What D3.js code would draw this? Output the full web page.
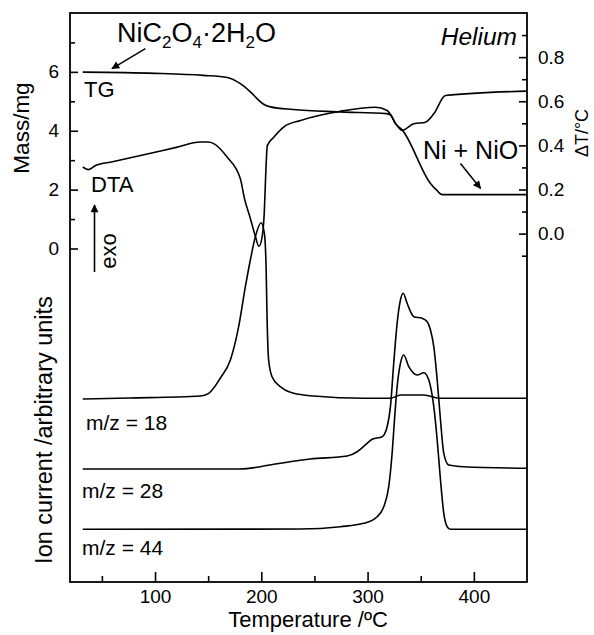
<!DOCTYPE html>
<html>
<head>
<meta charset="utf-8">
<script src="https://cdn.jsdelivr.net/npm/d3@7"></script>
<style>
  body { margin: 0; background: #fff; }
  svg { display: block; }
  text { font-family: "Liberation Sans", Arial, sans-serif; fill: #000; }
</style>
</head>
<body>
<svg id="chart" width="594" height="635"></svg>
<script>
// ---- TG: sample mass (mg) vs temperature (°C) ----
const tgTemp = [32, 100, 145.5, 168, 180.3, 189.7, 197.5, 202.2, 208.6, 230, 274.5, 318, 322, 326, 332.5, 359.2, 365, 370.2, 450];
const tgMass = [5.99, 5.95, 5.88, 5.81, 5.60, 5.32, 5.04, 4.90, 4.81, 4.72, 4.64, 4.58, 4.52, 4.25, 4.03, 2.21, 1.98, 1.83, 1.83];

// ---- DTA: temperature difference (°C) vs temperature (°C) ----
const dtaTemp = [32, 37.5, 44, 60, 100, 120, 142.6, 150, 155.2, 167.8, 180.3, 184.1, 189.7, 194.4, 197.7, 201, 202.9, 204.3, 205.7, 211.7, 221, 237, 274.5, 307.4, 318.4, 327.8, 332.5, 343.5, 354.5, 362.3, 373.3, 450];
const dtaDelta = [0.302, 0.290, 0.309, 0.326, 0.369, 0.391, 0.415, 0.415, 0.408, 0.347, 0.249, 0.160, 0.069, -0.012, -0.058, -0.008, 0.106, 0.287, 0.400, 0.437, 0.483, 0.513, 0.555, 0.573, 0.558, 0.490, 0.468, 0.498, 0.505, 0.543, 0.626, 0.646];

// ---- MS ion currents (arbitrary units, traces stacked) ----
const ms18Temp = [32, 76, 142.6, 150.5, 161.5, 170.9, 178.7, 185, 189.7, 194.4, 199.8, 202.9, 204.5, 205.4, 206.9, 210.1, 218, 230.5, 249.3, 296.4, 321.5, 330.9, 352.9, 368.6, 450];
const ms18Ion  = [18.3, 18.4, 18.6, 18.87, 20.4, 22.2, 25.53, 29.53, 32.2, 34.53, 35.93, 34.87, 31.53, 26.53, 22.2, 20.53, 19.53, 18.87, 18.6, 18.37, 18.37, 18.7, 18.7, 18.37, 18.37];

const ms28Temp = [32, 180, 199, 211.7, 246.2, 280.8, 290.2, 299.6, 304.3, 313.7, 318.4, 321.5, 324.6, 327.8, 330.9, 333.5, 337.2, 343.5, 351.4, 356.1, 359.2, 362.3, 365.5, 368.6, 371.7, 376.4, 390.5, 450];
const ms28Ion  = [11.3, 11.3, 11.53, 11.77, 12.3, 12.6, 13.03, 13.87, 14.27, 14.53, 15.53, 17.53, 21.87, 25.87, 28.2, 28.87, 27.87, 26.53, 26.37, 26.03, 25.2, 23.53, 20.2, 16.2, 12.87, 11.7, 11.53, 11.37];

const ms44Temp = [32, 236.8, 274.5, 296.4, 309, 315.2, 319.9, 323.1, 325.3, 327.8, 330.9, 334, 338.8, 346.7, 352.9, 357.6, 362.3, 365.5, 368.6, 371.7, 374.9, 378, 450];
const ms44Ion  = [5.27, 5.3, 5.53, 5.87, 6.53, 7.53, 9.53, 12.87, 16.2, 19.53, 21.87, 22.7, 21.53, 20.7, 20.93, 20.2, 17.53, 14.2, 10.2, 6.87, 5.53, 5.27, 5.27];

// ---- Axis ticks ----
const tempTicks  = [100, 200, 300, 400];
const tempMinor  = [50, 150, 250, 350];
const massTicks  = [0, 2, 4, 6];
const massMinor  = [1, 3, 5, 7];
const dtaTicks   = [0.0, 0.2, 0.4, 0.6, 0.8];
const dtaMinor   = [-0.1, 0.1, 0.3, 0.5, 0.7, 0.9];

const svg = d3.select("#chart");
const plotL = 70, plotR = 527, plotT = 13, plotB = 582;

const x     = d3.scaleLinear().domain([20, 450]).range([plotL, plotR]);
const yMass = d3.scaleLinear().domain([-11.33, 8]).range([plotB, plotT]);
const yDta  = d3.scaleLinear().domain([-1.579, 1.0]).range([plotB, plotT]);
const yIon  = d3.scaleLinear().domain([0, 56.9]).range([plotB, plotT]);

const zip = (a, b) => a.map((v, i) => [v, b[i]]);
const line = ys => d3.line().x(d => x(d[0])).y(d => ys(d[1])).curve(d3.curveMonotoneX);

const curves = svg.append("g").attr("fill", "none").attr("stroke", "#000")
  .attr("stroke-width", 1.6).attr("stroke-linejoin", "round");
curves.append("path").attr("d", line(yMass)(zip(tgTemp, tgMass)));
curves.append("path").attr("d", line(yDta)(zip(dtaTemp, dtaDelta)));
curves.append("path").attr("d", line(yIon)(zip(ms18Temp, ms18Ion)));
curves.append("path").attr("d", line(yIon)(zip(ms28Temp, ms28Ion)));
curves.append("path").attr("d", line(yIon)(zip(ms44Temp, ms44Ion)));

// ---- Frame ----
svg.append("rect").attr("x", plotL).attr("y", plotT)
  .attr("width", plotR - plotL).attr("height", plotB - plotT)
  .attr("fill", "none").attr("stroke", "#000").attr("stroke-width", 1.8);

function styleAxis(g) {
  g.select(".domain").remove();
  g.selectAll("line").attr("stroke", "#000").attr("stroke-width", 1.6);
  g.selectAll("text").attr("font-size", 19).attr("font-family", '"Liberation Sans", Arial, sans-serif');
}

// bottom axis (ticks point inward)
svg.append("g").attr("transform", `translate(0,${plotB})`)
  .call(d3.axisBottom(x).tickValues(tempTicks).tickSize(-10).tickPadding(8))
  .call(styleAxis);
svg.append("g").attr("transform", `translate(0,${plotB})`)
  .call(d3.axisBottom(x).tickValues(tempMinor).tickSize(-6).tickFormat(""))
  .call(styleAxis);

// left mass axis
svg.append("g").attr("transform", `translate(${plotL},0)`)
  .call(d3.axisLeft(yMass).tickValues(massTicks).tickSize(-8).tickPadding(11).tickFormat(d3.format("d")))
  .call(styleAxis);
svg.append("g").attr("transform", `translate(${plotL},0)`)
  .call(d3.axisLeft(yMass).tickValues(massMinor).tickSize(-5).tickFormat(""))
  .call(styleAxis);

// right DTA axis
svg.append("g").attr("transform", `translate(${plotR},0)`)
  .call(d3.axisRight(yDta).tickValues(dtaTicks).tickSize(-8).tickPadding(11).tickFormat(d3.format(".1f")))
  .call(styleAxis);
svg.append("g").attr("transform", `translate(${plotR},0)`)
  .call(d3.axisRight(yDta).tickValues(dtaMinor).tickSize(-5).tickFormat(""))
  .call(styleAxis);

// ---- Axis titles ----
svg.append("text").attr("transform", "translate(29,128) rotate(-90)")
  .attr("text-anchor", "middle").attr("font-size", 22.5).text("Mass/mg");
svg.append("text").attr("transform", "translate(52,430) rotate(-90)")
  .attr("text-anchor", "middle").attr("font-size", 23.5).text("Ion current /arbitrary units");
svg.append("text").attr("transform", "translate(588,133) rotate(-90)")
  .attr("text-anchor", "middle").attr("font-size", 18).text("ΔT/°C");
svg.append("text").attr("x", 308).attr("y", 627)
  .attr("text-anchor", "middle").attr("font-size", 22).text("Temperature /ºC");

// ---- Annotations ----
const defs = svg.append("defs");
defs.append("marker").attr("id", "head").attr("viewBox", "0 0 10 10")
  .attr("refX", 9).attr("refY", 5).attr("markerWidth", 14).attr("markerHeight", 8)
  .attr("markerUnits", "userSpaceOnUse").attr("orient", "auto")
  .append("path").attr("d", "M0,0 L10,5 L0,10 Z").attr("fill", "#000");

const title = svg.append("text").attr("x", 117).attr("y", 42).attr("font-size", 27);
[["NiC", 0], ["2", 1], ["O", 0], ["4", 1], ["·2H", 0], ["2", 1], ["O", 0]].forEach(([s, sub]) => {
  title.append("tspan").text(s)
    .attr("font-size", sub ? 17 : 27)
    .attr("baseline-shift", sub ? "-35%" : null);
});

svg.append("line").attr("x1", x(90.9)).attr("y1", yMass(6.79)).attr("x2", x(59.5)).attr("y2", yMass(6.11))
  .attr("stroke", "#000").attr("stroke-width", 1.5).attr("marker-end", "url(#head)");

svg.append("text").attr("x", 84).attr("y", 97).attr("font-size", 22).text("TG");
svg.append("text").attr("x", 91).attr("y", 192).attr("font-size", 22).text("DTA");

svg.append("line").attr("x1", 94.5).attr("y1", 272).attr("x2", 94.5).attr("y2", 205)
  .attr("stroke", "#000").attr("stroke-width", 1.6).attr("marker-end", "url(#head)");
svg.append("text").attr("transform", "translate(116,251) rotate(-90)")
  .attr("text-anchor", "middle").attr("font-size", 22).text("exo");

svg.append("text").attr("x", 517).attr("y", 45).attr("text-anchor", "end")
  .attr("font-size", 24.5).attr("font-style", "italic").text("Helium");

svg.append("text").attr("x", 423).attr("y", 159).attr("font-size", 25).text("Ni + NiO");
svg.append("line").attr("x1", x(387.4)).attr("y1", yMass(2.89)).attr("x2", x(406.3)).attr("y2", yMass(2.04))
  .attr("stroke", "#000").attr("stroke-width", 1.5).attr("marker-end", "url(#head)");

svg.append("text").attr("x", 86).attr("y", 430).attr("font-size", 21).text("m/z = 18");
svg.append("text").attr("x", 82).attr("y", 498).attr("font-size", 21).text("m/z = 28");
svg.append("text").attr("x", 82).attr("y", 555).attr("font-size", 21).text("m/z = 44");
</script>
</body>
</html>
